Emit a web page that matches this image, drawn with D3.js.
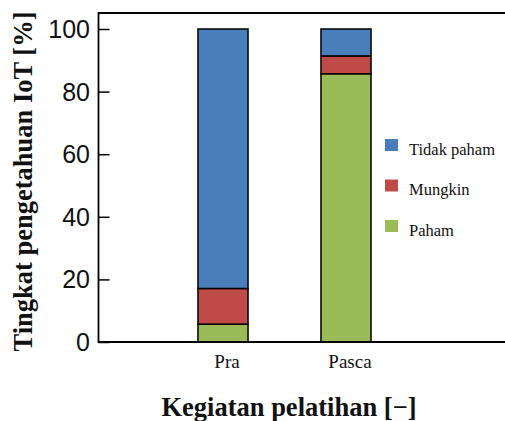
<!DOCTYPE html>
<html>
<head>
<meta charset="utf-8">
<script src="https://cdn.jsdelivr.net/npm/d3@7"></script>
<style>
  html, body { margin: 0; padding: 0; background: #fff; }
  svg { display: block; }
</style>
</head>
<body>
<svg width="505" height="421"></svg>
<script>
// Data
const categories = ["Pra", "Pasca"];
const seriesNames = ["Paham", "Mungkin", "Tidak paham"];
const paham = [5.7, 85.7];
const mungkin = [11.4, 5.7];
const tidakPaham = [82.9, 8.6];
const yTicks = [0, 20, 40, 60, 80, 100];

const colors = {
    "Paham": "#9bbb59",
    "Mungkin": "#be4b48",
    "Tidak paham": "#4a7ebb"
};

const svg = d3.select('svg');

const rows = categories.map((c, i) => ({
    cat: c,
    "Paham": paham[i],
    "Mungkin": mungkin[i],
    "Tidak paham": tidakPaham[i]
}));

const stack = d3.stack().keys(seriesNames);
const layers = stack(rows);

const x = d3.scaleBand()
    .domain(categories)
    .range([161.5, 407.5])
    .paddingInner(0.593)
    .paddingOuter(0.2965);

const y = d3.scaleLinear()
    .domain([0, 100])
    .range([342, 29]);

// frame: top line
svg.append("line")
    .attr("x1", 98).attr("x2", 505)
    .attr("y1", 13).attr("y2", 13)
    .attr("stroke", "#000").attr("stroke-width", 2);

// bars
svg.append("g")
    .selectAll("g")
    .data(layers)
    .enter().append("g")
    .attr("fill", d => colors[d.key])
    .selectAll("rect")
    .data(d => d)
    .enter().append("rect")
    .attr("x", d => x(d.data.cat))
    .attr("y", d => y(d[1]))
    .attr("width", x.bandwidth())
    .attr("height", d => y(d[0]) - y(d[1]))
    .attr("stroke", "#000")
    .attr("stroke-width", 1.5);

// y axis, ticks pointing inward
const yAxis = svg.append("g")
    .attr("transform", "translate(98.5,0)")
    .call(d3.axisRight(y).tickValues(yTicks).tickSize(11).tickFormat(""));
yAxis.select(".domain").remove();
yAxis.selectAll("line").attr("stroke", "#000").attr("stroke-width", 1.5);

svg.append("line")
    .attr("x1", 98.5).attr("x2", 98.5)
    .attr("y1", 12).attr("y2", 343)
    .attr("stroke", "#000").attr("stroke-width", 1.8);

svg.append("g")
    .selectAll("text")
    .data(yTicks)
    .enter().append("text")
    .attr("x", 90)
    .attr("y", d => y(d))
    .attr("dy", "0.36em")
    .attr("text-anchor", "end")
    .style("font-family", "'Liberation Sans', Arial, sans-serif")
    .style("font-size", "25px")
    .attr("fill", "#111")
    .text(d => d);

// x axis line
svg.append("line")
    .attr("x1", 98).attr("x2", 505)
    .attr("y1", 342).attr("y2", 342)
    .attr("stroke", "#000").attr("stroke-width", 1.8);

// x category labels
svg.append("g")
    .selectAll("text")
    .data(categories)
    .enter().append("text")
    .attr("x", d => x(d) + x.bandwidth() / 2 + 4)
    .attr("y", 368)
    .attr("text-anchor", "middle")
    .style("font-family", "'Liberation Serif', 'Times New Roman', serif")
    .style("font-size", "19px")
    .attr("fill", "#111")
    .text(d => d);

// legend
const legendKeys = ["Tidak paham", "Mungkin", "Paham"];
const legend = svg.append("g")
    .selectAll("g")
    .data(legendKeys)
    .enter().append("g")
    .attr("transform", (d, i) => `translate(385,${139 + i * 40.5})`);

legend.append("rect")
    .attr("width", 13)
    .attr("height", 12)
    .attr("fill", d => colors[d]);

legend.append("text")
    .attr("x", 24)
    .attr("y", 15.5)
    .style("font-family", "'Liberation Serif', 'Times New Roman', serif")
    .style("font-size", "16.5px")
    .attr("fill", "#111")
    .text(d => d);

// axis titles
svg.append("text")
    .attr("x", 289)
    .attr("y", 416)
    .attr("text-anchor", "middle")
    .style("font-family", "'Liberation Serif', 'Times New Roman', serif")
    .style("font-weight", "bold")
    .style("font-size", "26.5px")
    .attr("fill", "#111")
    .text("Kegiatan pelatihan [\u2212]");

svg.append("text")
    .attr("transform", "translate(32,181.5) rotate(-90)")
    .attr("text-anchor", "middle")
    .style("font-family", "'Liberation Serif', 'Times New Roman', serif")
    .style("font-weight", "bold")
    .style("font-size", "26.5px")
    .attr("fill", "#111")
    .text("Tingkat pengetahuan IoT [%]");
</script>
</body>
</html>
